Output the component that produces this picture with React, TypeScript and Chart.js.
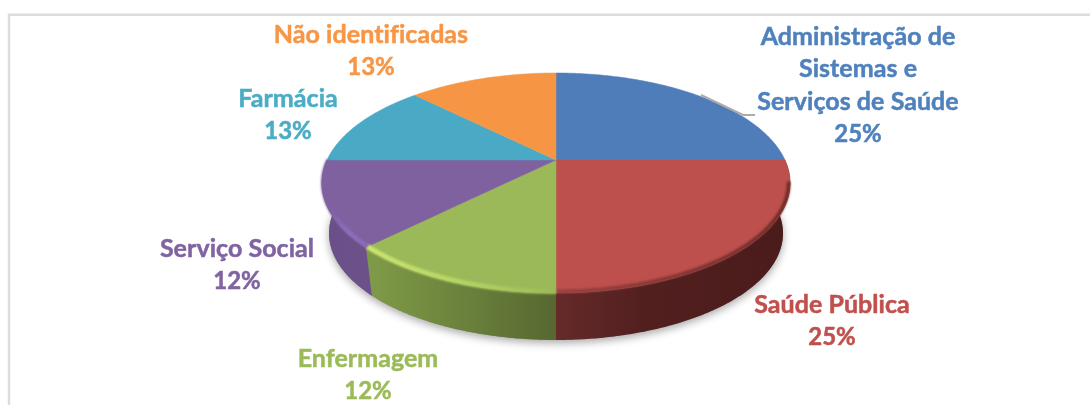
import React, { useEffect, useRef } from "react";
import { Chart, registerables } from "chart.js";

Chart.register(...registerables);

const categories = ["Administração de Sistemas e Serviços de Saúde", "Saúde Pública", "Enfermagem", "Serviço Social", "Farmácia", "Não identificadas"];
const shares = [25, 25, 12.5, 12.5, 12.5, 12.5];
const shownPercent = ["25%", "25%", "12%", "12%", "13%", "13%"];
const labelLines = [["Administração de", "Sistemas e", "Serviços de Saúde"], ["Saúde Pública"], ["Enfermagem"], ["Serviço Social"], ["Farmácia"], ["Não identificadas"]];
const labelAnchor = [[858, 37], [832, 305], [368, 359], [237, 249], [288, 99], [371, 35]];
const topColors = ["#4f7db9", "#bd4f4c", "#9bb958", "#7f61a0", "#4aa9c4", "#f69644"];
const textColors = ["#4f81bd", "#c0504d", "#9bbb59", "#8064a2", "#4bacc6", "#f79646"];
const wallColors = [["#2f4d75", "#2f4d75"], ["#662a2a", "#4a1c1b"], ["#7f9a47", "#566830"], ["#6a4f8a", "#6c5189"], ["#2f6f80", "#2f6f80"], ["#9a5d2a", "#9a5d2a"]];
const rimStops: (string[] | null)[] = [null, ["#94403d", "#6a2a28"], ["#cbe672", "#b6d366", "#9bb958"], ["#7f61a0", "#8d6ebd", "#8a6bb8"], null, null];
const rimWidths = [0, 3.5, 5, 4.5, 0, 0];

const CX = 556, CY = 160, TILT = 0.209;
const topFace = { bx: 229, ay: 105.2, dy: 0 };
const rimFace = { bx: 227.5, ay: 104, dy: 0 };
const bottomFace = { bx: 222, ay: 102, dy: 51 };

function project(a: number, f: { bx: number; ay: number; dy: number }) {
  const u = Math.cos(a), v = Math.sin(a);
  const w = 1 / (1 - TILT * v);
  return [CX + f.bx * u * w, CY + f.dy + f.ay * v * w];
}

function rimPath(ctx: CanvasRenderingContext2D, a0: number, a1: number, f: any, move: boolean) {
  const n = Math.max(2, Math.ceil(Math.abs(a1 - a0) / 0.01));
  for (let i = 0; i <= n; i++) {
    const p = project(a0 + ((a1 - a0) * i) / n, f);
    if (i === 0 && move) ctx.moveTo(p[0], p[1]);
    else ctx.lineTo(p[0], p[1]);
  }
}

const pie3d = {
  id: "pie3d",
  beforeDraw(chart: any) {
    const ctx = chart.ctx;
    ctx.save();
    ctx.strokeStyle = "#dddddd";
    ctx.lineWidth = 2.5;
    ctx.beginPath();
    ctx.moveTo(9, 405);
    ctx.lineTo(9, 14.7);
    ctx.lineTo(1090, 14.7);
    ctx.stroke();
    ctx.restore();
  },
  beforeDatasetDraw(chart: any) {
    const ctx: CanvasRenderingContext2D = chart.ctx;
    const arcs = chart.getDatasetMeta(0).data;

    // soft ground shadow
    ctx.save();
    ctx.shadowColor = "rgba(0,0,0,0.35)";
    ctx.shadowBlur = 9;
    ctx.shadowOffsetY = 3;
    ctx.fillStyle = "#888";
    ctx.beginPath();
    rimPath(ctx, 0, Math.PI, bottomFace, true);
    ctx.closePath();
    ctx.fill();
    ctx.restore();

    // side walls
    arcs.forEach((arc: any, i: number) => {
      const a0 = Math.max(arc.startAngle, 0), a1 = Math.min(arc.endAngle, Math.PI);
      if (a1 <= a0) return;
      const pa = project(a0, bottomFace), pb = project(a1, bottomFace);
      const left = Math.min(pa[0], pb[0]), right = Math.max(pa[0], pb[0]);
      const g = ctx.createLinearGradient(left, 0, right, 0);
      g.addColorStop(0, wallColors[i][0]);
      if (i === 1) g.addColorStop(0.4, "#521f1f");
      g.addColorStop(1, wallColors[i][1]);
      ctx.fillStyle = g;
      ctx.beginPath();
      rimPath(ctx, a0, a1, topFace, true);
      rimPath(ctx, a1, a0, bottomFace, false);
      ctx.closePath();
      ctx.fill();
    });

    // top faces
    arcs.forEach((arc: any, i: number) => {
      ctx.fillStyle = topColors[i];
      ctx.strokeStyle = topColors[i];
      ctx.lineWidth = 0.5;
      ctx.beginPath();
      ctx.moveTo(CX, CY);
      rimPath(ctx, arc.startAngle, arc.endAngle, topFace, false);
      ctx.closePath();
      ctx.fill();
      ctx.stroke();
    });

    // bevel on the front rim
    arcs.forEach((arc: any, i: number) => {
      const stops = rimStops[i];
      if (!stops) return;
      const a0 = Math.max(arc.startAngle, 0.2), a1 = arc.endAngle;
      const pa = project(a0, rimFace), pb = project(a1, rimFace);
      const left = Math.min(pa[0], pb[0]), right = Math.max(pa[0], pb[0]);
      const g = ctx.createLinearGradient(left, 0, right, 0);
      stops.forEach((c, k) => g.addColorStop(k / (stops.length - 1), c));
      ctx.save();
      ctx.filter = "blur(1px)";
      ctx.strokeStyle = g;
      ctx.lineWidth = rimWidths[i];
      ctx.beginPath();
      rimPath(ctx, a0, a1, rimFace, true);
      ctx.stroke();
      ctx.restore();
    });
    return false;
  },
  afterDraw(chart: any) {
    const ctx: CanvasRenderingContext2D = chart.ctx;
    // leader line
    ctx.save();
    ctx.strokeStyle = "#acacac";
    ctx.lineWidth = 2.2;
    ctx.beginPath();
    ctx.moveTo(701, 95);
    ctx.lineTo(743, 115);
    ctx.lineTo(755, 115);
    ctx.stroke();
    ctx.restore();

    // data labels
    ctx.save();
    (ctx as any).letterSpacing = "0.05px";
    ctx.textAlign = "center";
    ctx.textBaseline = "middle";
    ctx.lineWidth = 0.5;
    categories.forEach((_, i) => {
      const lines = [...labelLines[i], shownPercent[i]];
      ctx.fillStyle = textColors[i];
      ctx.strokeStyle = textColors[i];
      lines.forEach((t, j) => {
        const y = labelAnchor[i][1] + j * 32.3;
        ctx.font = j === lines.length - 1 ? "bold 24px Lato" : "bold 25px Lato";
        ctx.fillText(t, labelAnchor[i][0], y);
        ctx.strokeText(t, labelAnchor[i][0], y);
      });
    });
    ctx.restore();
  },
};

export default function App() {
  const ref = useRef<HTMLCanvasElement>(null);
  useEffect(() => {
    const chart = new Chart(ref.current!, {
      type: "pie",
      data: { labels: categories, datasets: [{ data: shares, backgroundColor: topColors, borderWidth: 0 }] },
      options: {
        animation: false,
        responsive: false,
        events: [],
        plugins: { legend: { display: false }, tooltip: { enabled: false } },
      },
      plugins: [pie3d],
    } as any);
    return () => chart.destroy();
  }, []);
  return (
    <div style={{ position: "fixed", left: 0, top: 0, width: 1090, height: 405, background: "#fff" }}>
      <canvas ref={ref} width={1090} height={405} style={{ display: "block" }} />
    </div>
  );
}
